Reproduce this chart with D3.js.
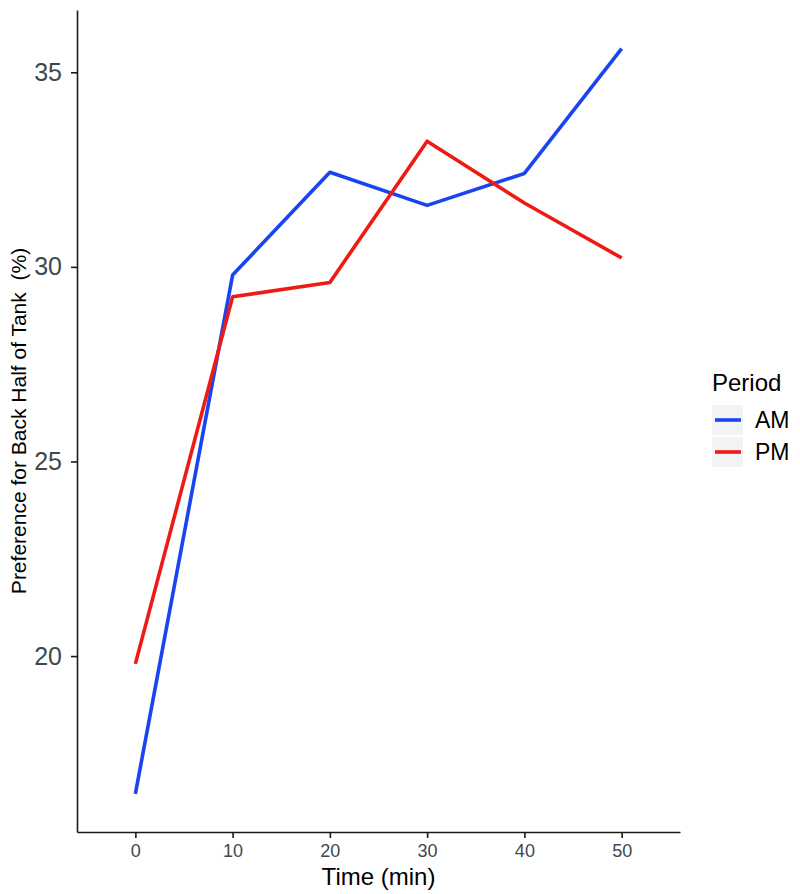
<!DOCTYPE html>
<html>
<head>
<meta charset="utf-8">
<script src="https://cdn.jsdelivr.net/npm/d3@7"></script>
<style>
    body { margin: 0; background: white; }
    svg { display: block; font-family: "Liberation Sans", Arial, sans-serif; }
</style>
</head>
<body>
<svg id="grafica"></svg>
<script>
/**
 * Datos
 */
const tiempos = [0, 10, 20, 30, 40, 50];
const valoresAM = [16.46, 29.79, 32.43, 31.58, 32.40, 35.61];
const valoresPM = [19.80, 29.23, 29.60, 33.23, 31.64, 30.23];
const periodos = ['AM', 'PM'];
const coloresPeriodo = ['#1a44f2', '#ee1b14'];
const ticksX = [0, 10, 20, 30, 40, 50];
const ticksY = [20, 25, 30, 35];

function graficarLineas(svgId, ancho, alto) {

    const svg = d3.select('#' + svgId)
        .attr('width', ancho)
        .attr('height', alto);

    /**
     * Escalas
     */
    const x = d3.scaleLinear().domain([-6, 56]).range([77, 680]);
    const y = d3.scaleLinear().domain([15.48, 36.6]).range([832, 10]);

    /**
     * Ejes
     */
    const ejeY = svg.append('g')
        .attr('transform', 'translate(77,0)')
        .call(d3.axisLeft(y).tickValues(ticksY).tickSize(6).tickSizeOuter(0).tickPadding(9));

    const ejeX = svg.append('g')
        .attr('transform', 'translate(0,832)')
        .call(d3.axisBottom(x).tickValues(ticksX).tickSize(6).tickSizeOuter(0).tickPadding(6));

    [ejeY, ejeX].forEach(eje => {
        eje.select('.domain').attr('stroke', '#1a1a1a').attr('stroke-width', 1.6);
        eje.selectAll('.tick line').attr('stroke', '#1a1a1a').attr('stroke-width', 1.6);
    });
    ejeY.selectAll('.tick text').attr('font-size', 25).attr('fill', '#3d4a4d').attr('font-family', null);
    ejeX.selectAll('.tick text').attr('font-size', 18).attr('fill', '#3d4a4d').attr('font-family', null);

    /**
     * Titulos de ejes
     */
    svg.append('text')
        .attr('x', 378.5)
        .attr('y', 885)
        .attr('text-anchor', 'middle')
        .attr('font-size', 24)
        .attr('fill', '#000')
        .text('Time (min)');

    svg.append('text')
        .attr('transform', 'translate(26,421) rotate(-90)')
        .attr('text-anchor', 'middle')
        .attr('font-size', 21)
        .attr('fill', '#000')
        .style('white-space', 'pre')
        .text('Preference for Back Half of Tank  (%)');

    /**
     * Lineas
     */
    const series = [valoresAM, valoresPM];
    const linea = d3.line()
        .x((d, i) => x(tiempos[i]))
        .y(d => y(d));

    svg.append('g')
        .selectAll('path')
        .data(series)
        .join('path')
        .attr('d', linea)
        .attr('fill', 'none')
        .attr('stroke', (d, i) => coloresPeriodo[i])
        .attr('stroke-width', 3.6)
        .attr('stroke-linejoin', 'round');

    /**
     * Leyenda
     */
    const leyenda = svg.append('g').attr('transform', 'translate(712,0)');

    leyenda.append('text')
        .attr('x', 0)
        .attr('y', 391)
        .attr('font-size', 24)
        .attr('fill', '#000')
        .text('Period');

    const items = leyenda.selectAll('g.item')
        .data(periodos)
        .join('g')
        .attr('class', 'item')
        .attr('transform', (d, i) => `translate(0,${405 + i * 32})`);

    items.append('rect')
        .attr('width', 31)
        .attr('height', 30)
        .attr('fill', '#f2f3f4');

    items.append('line')
        .attr('x1', 3).attr('x2', 29)
        .attr('y1', 15).attr('y2', 15)
        .attr('stroke', (d, i) => coloresPeriodo[i])
        .attr('stroke-width', 3.6);

    items.append('text')
        .attr('x', 43)
        .attr('y', 23)
        .attr('font-size', 23)
        .attr('fill', '#000')
        .text(d => d);
}

graficarLineas('grafica', 800, 894);
</script>
</body>
</html>
